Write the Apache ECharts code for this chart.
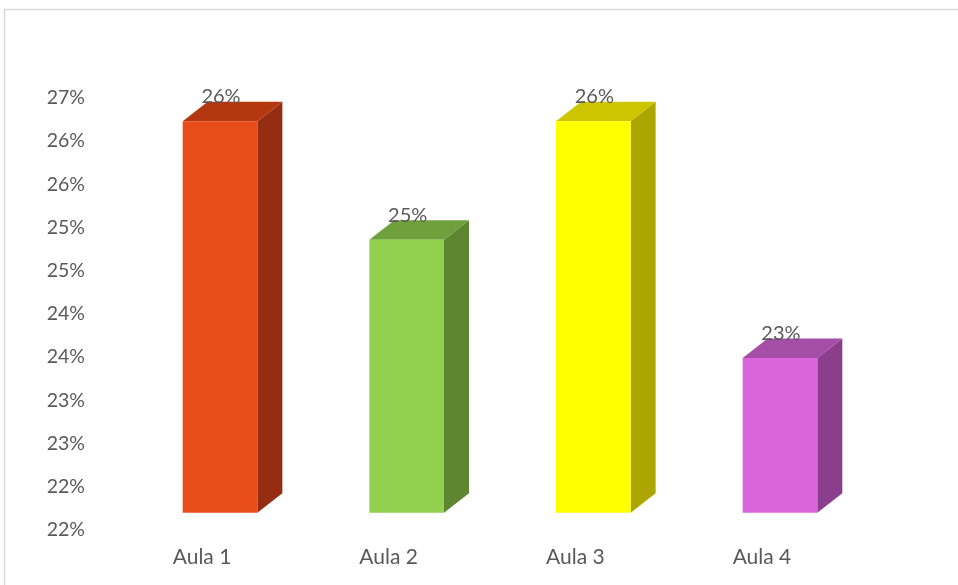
<!DOCTYPE html>
<html>
<head>
<meta charset="utf-8">
<script src="https://cdn.jsdelivr.net/npm/echarts@6/dist/echarts.min.js"></script>
<style>
  html, body { margin: 0; padding: 0; background: #ffffff; }
  #chart { width: 958px; height: 585px; }
</style>
</head>
<body>
<div id="chart"></div>
<script>
// ---- data ----
var categories = ['Aula 1', 'Aula 2', 'Aula 3', 'Aula 4'];
var values = [26.03, 24.66, 26.03, 23.29];           // percent
var yTickLabels = ['22%', '22%', '23%', '23%', '24%', '24%', '25%', '25%', '26%', '26%', '27%'];
var yMin = 21.5, yMax = 26.5, yStep = 0.5;

// ---- styles ----
var frontColors = ['#E84C18', '#92D050', '#FFFF00', '#DA64DA'];
var topColors   = ['#B3380F', '#6FA03C', '#CCC500', '#A54EA7'];
var sideColors  = ['#942D11', '#5E8632', '#ADA600', '#8A3E8C'];
var textColor = '#595959';
var fontFam = 'Lato, "Open Sans", sans-serif';

var chart = echarts.init(document.getElementById('chart'));

var seriesData = values.map(function (v, i) { return [i, v]; });

function renderItem(params, api) {
  var idx = api.value(0);
  var val = api.value(1);
  var top = api.coord([idx, val]);
  var base = api.coord([idx, yMin]);
  var bw = api.size([1, 0])[0] * 0.4;
  var floor = 17.3, dx = 25, dy = 19.5;
  var x = top[0] - bw / 2;
  var yT = top[1] - floor;
  var yB = base[1] - floor;
  return {
    type: 'group',
    children: [
      {
        type: 'polygon',
        shape: { points: [[x + bw, yT], [x + bw + dx, yT - dy], [x + bw + dx, yB - dy], [x + bw, yB]] },
        style: { fill: sideColors[idx] }
      },
      {
        type: 'polygon',
        shape: { points: [[x, yT], [x + dx, yT - dy], [x + bw + dx, yT - dy], [x + bw, yT]] },
        style: { fill: topColors[idx] }
      },
      {
        type: 'rect',
        shape: { x: x, y: yT, width: bw, height: yB - yT },
        style: { fill: frontColors[idx] }
      },
      {
        type: 'text',
        x: top[0] + 1,
        y: yT - 24.5,
        style: {
          text: val.toFixed(0) + '%',
          fill: textColor,
          font: '20px ' + fontFam,
          align: 'center',
          verticalAlign: 'middle'
        }
      }
    ]
  };
}

var option = {
  backgroundColor: '#ffffff',
  animation: false,
  graphic: [{
    type: 'rect',
    shape: { x: 4.5, y: 9.5, width: 2000, height: 2000 },
    style: { fill: 'none', stroke: '#D9D9D9', lineWidth: 1.5 },
    silent: true
  }],
  grid: { left: 126.7, right: 84.7, top: 98, bottom: 55, containLabel: false },
  xAxis: {
    type: 'category',
    data: categories,
    axisLine: { show: false },
    axisTick: { show: false },
    splitLine: { show: false },
    axisLabel: {
      color: textColor,
      fontFamily: fontFam,
      fontSize: 21,
      margin: 17,
      padding: [0, 36, 0, 0]
    }
  },
  yAxis: {
    type: 'value',
    min: yMin,
    max: yMax,
    interval: yStep,
    axisLine: { show: false },
    axisTick: { show: false },
    splitLine: { show: false },
    axisLabel: {
      color: textColor,
      fontFamily: fontFam,
      fontSize: 19.5,
      margin: 41.7,
      formatter: function (v) {
        var i = Math.round((v - yMin) / yStep);
        return yTickLabels[i];
      }
    }
  },
  series: [{
    type: 'custom',
    renderItem: renderItem,
    encode: { x: 0, y: 1 },
    data: seriesData,
    clip: false
  }]
};

chart.setOption(option);
</script>
</body>
</html>
